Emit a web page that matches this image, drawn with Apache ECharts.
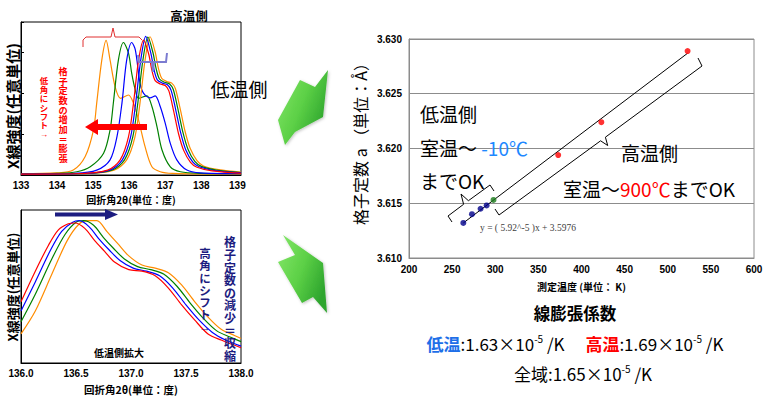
<!DOCTYPE html>
<html><head><meta charset="utf-8">
<script src="https://cdn.jsdelivr.net/npm/echarts@6/dist/echarts.min.js"></script>
<style>html,body{margin:0;padding:0;background:#fff}#c{width:770px;height:397px}</style>
</head><body><div id="c"></div>
<script>
// ---------- DATA ----------
// Top-left: X-ray profiles (2θ, intensity arb.)
const topOrangeLow = [[133.0,0.03],[134.0,0.05],[134.45,0.12],[134.78,0.45],[135.01,1.1],[135.1,1.76],[135.24,2.8],[135.36,3.28],[135.47,2.8],[135.61,2.15],[135.76,1.87],[135.98,1.95],[136.12,1.75],[136.26,1.34],[136.44,0.69],[136.63,0.2],[136.86,0.08],[137.2,0.04],[139.1,0.02]];
const topGreenLow = [[133.0,0.02],[134.0,0.04],[134.55,0.08],[134.92,0.2],[135.29,0.53],[135.47,1.1],[135.56,1.75],[135.7,2.8],[135.84,3.23],[135.98,2.97],[136.07,2.48],[136.17,2.07],[136.26,1.87],[136.49,1.93],[136.63,1.67],[136.77,1.18],[136.91,0.61],[137.14,0.2],[137.42,0.08],[138.0,0.04],[139.1,0.03]];
const topBlueLow = [[133.0,0.02],[134.5,0.04],[135.1,0.12],[135.47,0.37],[135.66,0.93],[135.8,1.76],[135.93,2.8],[136.07,3.23],[136.17,3.05],[136.3,2.24],[136.4,1.99],[136.58,1.88],[136.72,1.93],[136.86,1.67],[137.0,1.26],[137.14,0.77],[137.32,0.37],[137.6,0.12],[137.97,0.05],[139.1,0.03]];
const topRedHigh = [[133.0,0.02],[134.5,0.03],[135.4,0.12],[135.75,0.37],[135.98,0.93],[136.12,1.76],[136.26,2.8],[136.40,3.29],[136.54,2.95],[136.63,2.55],[136.72,2.3],[136.86,2.22],[137.0,2.18],[137.1,2.05],[137.23,1.57],[137.37,1.0],[137.51,0.6],[137.7,0.31],[137.88,0.19],[138.3,0.1],[139.1,0.04]];
const topBlueHigh = [[133.0,0.02],[134.56,0.03],[135.46,0.12],[135.81,0.37],[136.04,0.93],[136.18,1.76],[136.32,2.8],[136.46,3.38],[136.6,2.97],[136.69,2.56],[136.78,2.32],[136.92,2.24],[137.06,2.2],[137.16,2.07],[137.29,1.59],[137.43,1.02],[137.57,0.61],[137.76,0.32],[137.94,0.2],[138.36,0.11],[139.1,0.05]];
const topGreenHigh = [[133.0,0.02],[134.62,0.03],[135.52,0.12],[135.87,0.37],[136.1,0.93],[136.24,1.76],[136.38,2.8],[136.52,3.36],[136.66,2.98],[136.75,2.58],[136.84,2.34],[136.98,2.26],[137.12,2.22],[137.22,2.09],[137.35,1.61],[137.49,1.04],[137.63,0.63],[137.82,0.33],[138.0,0.21],[138.42,0.12],[139.1,0.06]];
const topOrangeHigh = [[133.0,0.02],[134.68,0.03],[135.58,0.12],[135.93,0.37],[136.16,0.93],[136.3,1.76],[136.44,2.8],[136.58,3.37],[136.72,3.0],[136.81,2.6],[136.9,2.36],[137.04,2.28],[137.18,2.24],[137.28,2.11],[137.41,1.63],[137.55,1.06],[137.69,0.65],[137.88,0.35],[138.06,0.22],[138.48,0.13],[139.1,0.07]];
const topTicksX = [133, 134, 135, 136, 137, 138, 139];

// Bottom-left: low-temperature side enlarged
const botRed = [[136.0,0.40],[136.13,0.60],[136.25,0.77],[136.34,0.87],[136.43,0.91],[136.49,0.915],[136.58,0.88],[136.67,0.80],[136.76,0.73],[136.85,0.66],[136.98,0.61],[137.10,0.60],[137.22,0.57],[137.34,0.49],[137.46,0.38],[137.58,0.28],[137.70,0.19],[137.82,0.15],[138.0,0.10]];
const botBlue = [[136.0,0.34],[136.13,0.53],[136.27,0.74],[136.37,0.86],[136.47,0.92],[136.53,0.93],[136.62,0.89],[136.71,0.81],[136.80,0.74],[136.90,0.67],[137.02,0.62],[137.14,0.60],[137.26,0.57],[137.38,0.49],[137.50,0.38],[137.62,0.28],[137.74,0.20],[137.86,0.15],[138.0,0.11]];
const botGreen = [[136.0,0.27],[136.13,0.45],[136.28,0.68],[136.40,0.84],[136.50,0.92],[136.57,0.93],[136.66,0.90],[136.75,0.82],[136.84,0.75],[136.94,0.68],[137.06,0.63],[137.18,0.61],[137.30,0.58],[137.42,0.50],[137.54,0.39],[137.66,0.29],[137.78,0.21],[137.90,0.17],[138.0,0.14]];
const botOrange = [[136.0,0.19],[136.13,0.34],[136.28,0.58],[136.42,0.80],[136.53,0.91],[136.60,0.93],[136.69,0.93],[136.78,0.86],[136.88,0.78],[136.98,0.70],[137.10,0.64],[137.22,0.62],[137.34,0.59],[137.46,0.51],[137.58,0.40],[137.70,0.30],[137.82,0.22],[137.94,0.18],[138.0,0.16]];

// Right: lattice constant vs measured temperature
const lowTempK = [263, 273, 283, 290];
const lowTempA = [3.6132, 3.6140, 3.6145, 3.6148];
const roomTempK = [298];
const roomTempA = [3.6153];
const highTempK = [373, 423, 523];
const highTempA = [3.6194, 3.6224, 3.6289];
const trendK = [263, 523];
const trendA = [3.6132, 3.6287];

// ---------- CHART ----------
const JP = '"Noto Sans CJK JP", sans-serif';
const VJP = '"Liberation Sans", "Noto Sans CJK JP", sans-serif';
const LAT = '"Liberation Sans", Arial, sans-serif';
const chart = echarts.init(document.getElementById('c'), null, {renderer: 'svg'});
const zip = (a, b) => a.map((v, i) => [v, b[i]]);

function line(data, color, gi) {
  return {type: 'line', xAxisIndex: gi, yAxisIndex: gi, data: data, showSymbol: false,
    smooth: 0.3, lineStyle: {color: color, width: 1.2}, itemStyle: {color: color}, silent: true, animation: false};
}
function scatter(data, color) {
  return {type: 'scatter', xAxisIndex: 2, yAxisIndex: 2, data: data, symbolSize: 6,
    itemStyle: {color: color}, silent: true, animation: false, z: 5};
}
function txt(x, y, text, size, color, weight, extra) {
  return Object.assign({type: 'text', x: x, y: y, z: 50, silent: true,
    style: {text: text, fill: color || '#000', fontSize: size, fontWeight: weight || 'normal',
      fontFamily: JP, align: 'center', verticalAlign: 'middle', textAlign: 'center', textVerticalAlign: 'middle'}},
    extra ? {rotation: extra.rotation || 0} : {});
}
// vertical (tategaki) text: one upright character per line
function vtxt(x, yTop, text, size, lh, color) {
  return {type: 'text', x: x, y: yTop, z: 50, silent: true,
    style: {text: Array.from(text).join('\n'), fill: color, fontSize: size, fontWeight: 'bold', fontFamily: VJP,
      lineHeight: lh, align: 'center', verticalAlign: 'top', textAlign: 'center', textVerticalAlign: 'top'}};
}
function poly(points, stroke, width) {
  return {type: 'polyline', z: 40, silent: true, shape: {points: points}, style: {stroke: stroke, lineWidth: width, fill: null}};
}
function greenArrow(points) {
  return {type: 'polygon', z: 30, silent: true, shape: {points: points},
    style: {fill: new echarts.graphic.LinearGradient(0, 0, 1, 0.6, [
      {offset: 0, color: '#86e86a'}, {offset: 0.55, color: '#5cd046'}, {offset: 1, color: '#2ea52e'}]),
      shadowBlur: 3, shadowColor: 'rgba(0,0,0,0.25)', shadowOffsetX: 1, shadowOffsetY: 1}};
}
function leftText(x, y, text, rich) {
  const s = {text: text, fill: '#000', fontSize: 19, fontFamily: JP, align: 'left', verticalAlign: 'middle', textAlign: 'left', textVerticalAlign: 'middle'};
  if (rich) s.rich = rich;
  return {type: 'text', x: x, y: y, z: 50, silent: true, style: s};
}
const tok = (c, size, extra) => Object.assign({fill: c, color: c, fontSize: size, fontFamily: JP}, extra || {});

const axisBlack = {lineStyle: {color: '#000', width: 1}};
const labBold = {fontFamily: LAT, fontWeight: 'bold', fontSize: 10, color: '#000'};

const option = {
  backgroundColor: '#fff',
  animation: false,
  grid: [
    {left: 21, top: 22, width: 220, height: 153, show: true, borderColor: '#000', borderWidth: 1, backgroundColor: 'transparent'},
    {left: 21, top: 210, width: 220, height: 153, show: true, borderColor: '#000', borderWidth: 1, backgroundColor: 'transparent'},
    {left: 409, top: 39, width: 345, height: 219, show: true, borderColor: '#8c8c8c', borderWidth: 1, backgroundColor: 'transparent'}
  ],
  xAxis: [
    {type: 'value', gridIndex: 0, min: topTicksX[0], max: 139.1, interval: 1,
      axisLine: axisBlack, axisTick: {show: false}, splitLine: {show: false},
      axisLabel: Object.assign({margin: 5, showMaxLabel: false, formatter: v => topTicksX.includes(v) ? String(v) : ''}, labBold),
      name: '回折角2θ(単位：度)', nameLocation: 'middle', nameGap: 19,
      nameTextStyle: {fontFamily: JP, fontWeight: 'bold', fontSize: 10, color: '#000'}},
    {type: 'value', gridIndex: 1, min: 136, max: 138, interval: 0.5,
      axisLine: axisBlack, axisTick: {show: false}, splitLine: {show: false},
      axisLabel: Object.assign({margin: 5, formatter: v => v.toFixed(1)}, labBold),
      name: '回折角2θ(単位：度)', nameLocation: 'middle', nameGap: 21,
      nameTextStyle: {fontFamily: JP, fontWeight: 'bold', fontSize: 10.5, color: '#000'}},
    {type: 'value', gridIndex: 2, min: 200, max: 600, interval: 50,
      axisLine: {lineStyle: {color: '#8c8c8c'}}, axisTick: {show: false}, splitLine: {show: false},
      axisLabel: Object.assign({margin: 6}, labBold),
      name: '測定温度 (単位： K)', nameLocation: 'middle', nameGap: 23,
      nameTextStyle: {fontFamily: JP, fontWeight: 'bold', fontSize: 10, color: '#000'}}
  ],
  yAxis: [
    {type: 'value', gridIndex: 0, min: 0, max: 3.73, interval: 1,
      axisLine: axisBlack, axisTick: {show: true, inside: true, length: 3, lineStyle: {color: '#000'}},
      axisLabel: {show: false}, splitLine: {show: false}},
    {type: 'value', gridIndex: 1, min: 0, max: 1, interval: 0.25,
      axisLine: axisBlack, axisTick: {show: false}, axisLabel: {show: false}, splitLine: {show: false}},
    {type: 'value', gridIndex: 2, min: 3.61, max: 3.63, interval: 0.005,
      axisLine: {lineStyle: {color: '#8c8c8c'}}, axisTick: {show: false},
      axisLabel: Object.assign({margin: 7, formatter: v => v.toFixed(3)}, labBold),
      splitLine: {show: true, lineStyle: {color: '#8c8c8c', width: 1}}}
  ],
  series: [
    line(topOrangeLow, '#ff8c00', 0),
    line(topGreenLow, '#008000', 0),
    line(topBlueLow, '#0000ff', 0),
    line(topOrangeHigh, '#ff8c00', 0),
    line(topGreenHigh, '#008000', 0),
    line(topBlueHigh, '#0000ff', 0),
    line(topRedHigh, '#ff0000', 0),
    line(botOrange, '#ff8c00', 1),
    line(botGreen, '#008000', 1),
    line(botBlue, '#0000ff', 1),
    line(botRed, '#ff0000', 1),
    {type: 'line', xAxisIndex: 2, yAxisIndex: 2, data: zip(trendK, trendA), showSymbol: false,
      lineStyle: {color: '#000', width: 1}, silent: true, z: 3},
    scatter(zip(lowTempK, lowTempA), '#00008b'),
    scatter(zip(roomTempK, roomTempA), '#1a7a1a'),
    scatter(zip(highTempK, highTempA), '#ff0000')
  ],
  graphic: [
    // top-left annotations
    txt(189, 15, '高温側', 12.5, '#000', 'bold'),
    txt(12.5, 106, 'X線強度(任意単位)', 15, '#000', 'bold', {rotation: Math.PI / 2}),
    txt(239, 88, '低温側', 19, '#000', 'normal'),
    poly([[83, 47], [83, 40], [86, 37], [111, 37], [113, 28], [115, 37], [139, 37], [142, 40]], '#e03030', 1),
    poly([[138, 55], [139, 62], [152, 62], [153, 72], [154, 62], [166, 62], [167, 53]], '#7b7bd0', 2),
    {type: 'rect', z: 45, silent: true, shape: {x: 97, y: 124, width: 50, height: 6}, style: {fill: '#ff0000'}},
    {type: 'polygon', z: 45, silent: true, shape: {points: [[85, 127], [98, 119], [98, 135]]}, style: {fill: '#ff0000'}},
    vtxt(63, 67, '格子定数の増加＝膨張', 9.2, 9.7, '#ff0000'),
    vtxt(44, 77, '低角にシフト→', 8.4, 8.8, '#ff0000'),
    // bottom-left annotations
    txt(12.5, 287, 'X線強度(任意単位)', 13, '#000', 'bold', {rotation: Math.PI / 2}),
    {type: 'rect', z: 45, silent: true, shape: {x: 55, y: 212.5, width: 51, height: 4}, style: {fill: '#1c1c80'}},
    {type: 'polygon', z: 45, silent: true, shape: {points: [[118, 214.5], [105, 209], [105, 220]]}, style: {fill: '#1c1c80'}},
    vtxt(230, 237, '格子定数の減少＝収縮', 12, 12.6, '#1c1c80'),
    vtxt(205, 248, '高角にシフト→', 11.5, 12.2, '#1c1c80'),
    txt(119, 352, '低温側拡大', 10, '#000', 'bold'),
    // green arrows
    greenArrow([[328, 70], [323, 117], [295, 132], [285, 145], [278, 120], [300, 80], [315, 87]]),
    greenArrow([[283, 235], [323, 263], [327, 313], [313, 297], [302, 303], [278, 262], [295, 255]]),
    // right chart annotations
    txt(360, 140, '格子定数 a （単位：Å）', 16, '#000', 'normal', {rotation: Math.PI / 2}),
    leftText(420, 113, '低温側'),
    leftText(420, 147, '{k|室温～ }{b|-10℃}', {k: tok('#000', 19), b: tok('#1e88ff', 19)}),
    leftText(420, 180, 'までOK'),
    leftText(621, 152, '高温側'),
    leftText(563, 188, '{k|室温～}{r|900℃}{k|までOK}', {k: tok('#000', 19), r: tok('#ff0000', 19)}),
    poly([[495, 209], [499, 215], [600.6, 140.8], [607.7, 145.5], [605.4, 137.2], [702, 66], [698, 58]], '#000', 1),
    poly([[452, 222], [448, 216], [463.6, 204.3], [461, 194], [468.4, 200.7], [490, 185], [494, 191]], '#000', 1),
    {type: 'text', x: 480, y: 228, z: 50, silent: true, style: {text: 'y = ( 5.92^-5 )x + 3.5976', fill: '#404040', fontSize: 9.5, fontFamily: '"Liberation Serif", "DejaVu Serif", serif', align: 'left', verticalAlign: 'middle', textAlign: 'left', textVerticalAlign: 'middle'}},
    // bottom text
    txt(575, 313, '線膨張係数', 16.5, '#000', 'bold'),
    {type: 'text', x: 575, y: 343, z: 50, silent: true, style: {
      text: '{lo|低温}{t|:1.63×10}{s|-5}{t| /K　 }{hi|高温}{t|:1.69×10}{s|-5}{t| /K}',
      fontSize: 17, fontFamily: JP, align: 'center', verticalAlign: 'middle', textAlign: 'center', textVerticalAlign: 'middle',
      rich: {
        lo: tok('#1e6fe8', 17, {fontWeight: 'bold', lineHeight: 20}),
        hi: tok('#ff0000', 17, {fontWeight: 'bold', lineHeight: 20}),
        t: tok('#000', 17, {lineHeight: 20}),
        s: tok('#000', 10, {lineHeight: 12, verticalAlign: 'top'})
      }}},
    {type: 'text', x: 583, y: 373, z: 50, silent: true, style: {
      text: '{t|全域:1.65×10}{s|-5}{t| /K}',
      fontSize: 17, fontFamily: JP, align: 'center', verticalAlign: 'middle', textAlign: 'center', textVerticalAlign: 'middle',
      rich: {
        t: tok('#000', 17, {lineHeight: 20}),
        s: tok('#000', 10, {lineHeight: 12, verticalAlign: 'top'})
      }}}
  ]
};
chart.setOption(option);
</script>
</body></html>
